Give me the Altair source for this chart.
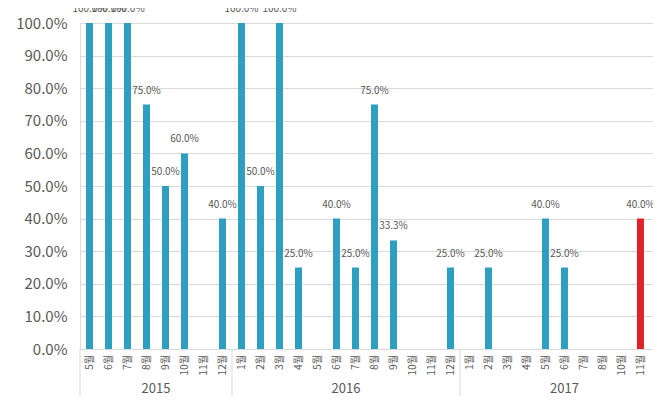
import altair as alt
import pandas as pd

# ---- data ----
years = ["2015"] * 8 + ["2016"] * 12 + ["2017"] * 11
months = [5, 6, 7, 8, 9, 10, 11, 12,
          1, 2, 3, 4, 5, 6, 7, 8, 9, 10, 11, 12,
          1, 2, 3, 4, 5, 6, 7, 8, 10, 11, 12]
rates = [1.0, 1.0, 1.0, 0.75, 0.5, 0.6, None, 0.4,
         1.0, 0.5, 1.0, 0.25, None, 0.4, 0.25, 0.75, 0.333, None, None, 0.25,
         None, 0.25, None, None, 0.4, 0.25, None, None, None, 0.4, None]
month_labels = [f"{m}월" for m in months]
y_ticks = [i / 10 for i in range(11)]

n = len(months)
df = pd.DataFrame({"idx": list(range(n)), "year": years, "month": month_labels, "rate": rates})
highlight_idx = max(i for i, r in enumerate(rates) if r is not None)

# year groups
grp = df.groupby("year", sort=False)["idx"].agg(["min", "max"]).reset_index()
grp["center"] = (grp["min"] + grp["max"]) / 2
grp["sep"] = grp["min"] - 0.5

FONT = "Noto Sans CJK KR"
GRAY = "#595959"
BLUE = "#2E9FC1"
RED = "#E0232A"
W, H = 573, 326
BOTTOM = 47

x_scale = alt.Scale(domain=[-0.5, 29.66], nice=False, zero=False, padding=0)
y_scale = alt.Scale(domain=[0, 1], nice=False, padding=0)
label_arr = "[" + ",".join(f"'{m}'" for m in month_labels) + "]"

x_axis = alt.Axis(values=list(range(n)), tickCount=n, labelExpr=f"{label_arr}[datum.value]",
                  labelAngle=270, labelOverlap=False, labelFlush=False, labelBound=False,
                  labelFont=FONT, labelFontSize=10.5, labelColor=GRAY,
                  labelPadding=5, ticks=False, grid=False,
                  domain=True, domainColor="#d9d9d9", title=None)
y_axis = alt.Axis(values=y_ticks, tickCount=11, format=".1%", labelFont=FONT, labelFontSize=15,
                  labelColor=GRAY, labelPadding=13, labelOverlap=False, ticks=False, domain=False,
                  gridColor="#d9d9d9", title=None)

base = alt.Chart(df)

bars = base.mark_bar(size=7).encode(
    x=alt.X("idx:Q", scale=x_scale, axis=x_axis),
    y=alt.Y("rate:Q", scale=y_scale, axis=y_axis),
    color=alt.condition(alt.datum.idx == highlight_idx, alt.value(RED), alt.value(BLUE)),
)

labels = base.mark_text(dy=-14, fontSize=10, font=FONT, color=GRAY).encode(
    x=alt.X("idx:Q", scale=x_scale, axis=x_axis),
    y=alt.Y("rate:Q", scale=y_scale, axis=y_axis),
    text=alt.Text("rate:Q", format=".1%"),
)

gbase = alt.Chart(grp)
seps = gbase.mark_rule(color="#d9d9d9", strokeWidth=1).encode(
    x=alt.X("sep:Q", scale=x_scale, axis=x_axis),
    y=alt.value(H),
    y2=alt.value(H + BOTTOM),
)
year_text = gbase.mark_text(fontSize=13, font=FONT, color=GRAY, baseline="middle").encode(
    x=alt.X("center:Q", scale=x_scale, axis=x_axis),
    y=alt.value(H + 40),
    text="year:N",
)

chart = alt.layer(bars, labels, seps, year_text).properties(
    width=W, height=H,
    autosize="none",
    padding={"left": 72, "top": 15, "right": 0, "bottom": BOTTOM},
).configure_view(stroke=None).configure(background="white")

chart.save("out.html", embed_options={"renderer": "svg", "actions": False})
